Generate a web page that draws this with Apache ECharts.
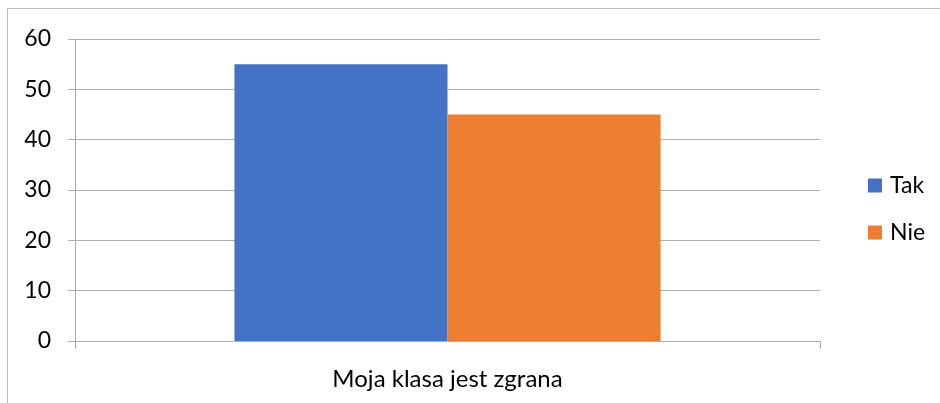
<!DOCTYPE html>
<html>
<head>
<meta charset="utf-8">
<script src="https://cdn.jsdelivr.net/npm/echarts@6/dist/echarts.min.js"></script>
<style>
    html, body { margin: 0; padding: 0; background: #fff; }
    #wrap { position: relative; width: 940px; height: 403px; overflow: hidden; }
    #frame { position: absolute; left: 7px; top: 8px; width: 1000px; height: 500px; border: 1px solid #bfbfbf; }
    #chart { position: absolute; left: 0; top: 0; width: 940px; height: 403px; }
</style>
</head>
<body>
<div id="wrap">
    <div id="frame"></div>
    <div id="chart"></div>
</div>
<script>
    // dane
    var categories = ['Moja klasa jest zgrana'];
    var tak = [55];
    var nie = [45];
    var yTicks = [0, 10, 20, 30, 40, 50, 60];

    var chart = echarts.init(document.getElementById('chart'));
    var font = 'Lato, "Open Sans", sans-serif';

    var option = {
        animation: false,
        grid: { left: 75, right: 120, top: 39, bottom: 62 },
        legend: {
            orient: 'vertical',
            left: 863,
            top: 169,
            icon: 'rect',
            itemWidth: 14,
            itemHeight: 14,
            itemGap: 24,
            textStyle: { fontFamily: font, fontSize: 23, color: '#000', padding: [0, 0, 0, 3] },
            data: ['Tak', 'Nie']
        },
        xAxis: {
            type: 'category',
            data: categories,
            axisLine: { lineStyle: { color: '#b0b0b0' } },
            axisTick: { show: true, length: 8, lineStyle: { color: '#b0b0b0' } },
            axisLabel: { fontFamily: font, fontSize: 24, color: '#000', margin: 26 }
        },
        yAxis: {
            type: 'value',
            min: yTicks[0],
            max: yTicks[yTicks.length - 1],
            interval: 10,
            axisLine: { show: true, lineStyle: { color: '#b0b0b0' } },
            axisTick: { show: true, length: 7, lineStyle: { color: '#b0b0b0' } },
            axisLabel: { fontFamily: font, fontSize: 23, color: '#000', margin: 24 },
            splitLine: { lineStyle: { color: '#b0b0b0' } }
        },
        series: [
            { name: 'Tak', type: 'bar', data: tak, barGap: 0, barCategoryGap: '42.8%', itemStyle: { color: '#4472c4' } },
            { name: 'Nie', type: 'bar', data: nie, barGap: 0, barCategoryGap: '42.8%', itemStyle: { color: '#ed7d31' } }
        ]
    };

    chart.setOption(option);
</script>
</body>
</html>
